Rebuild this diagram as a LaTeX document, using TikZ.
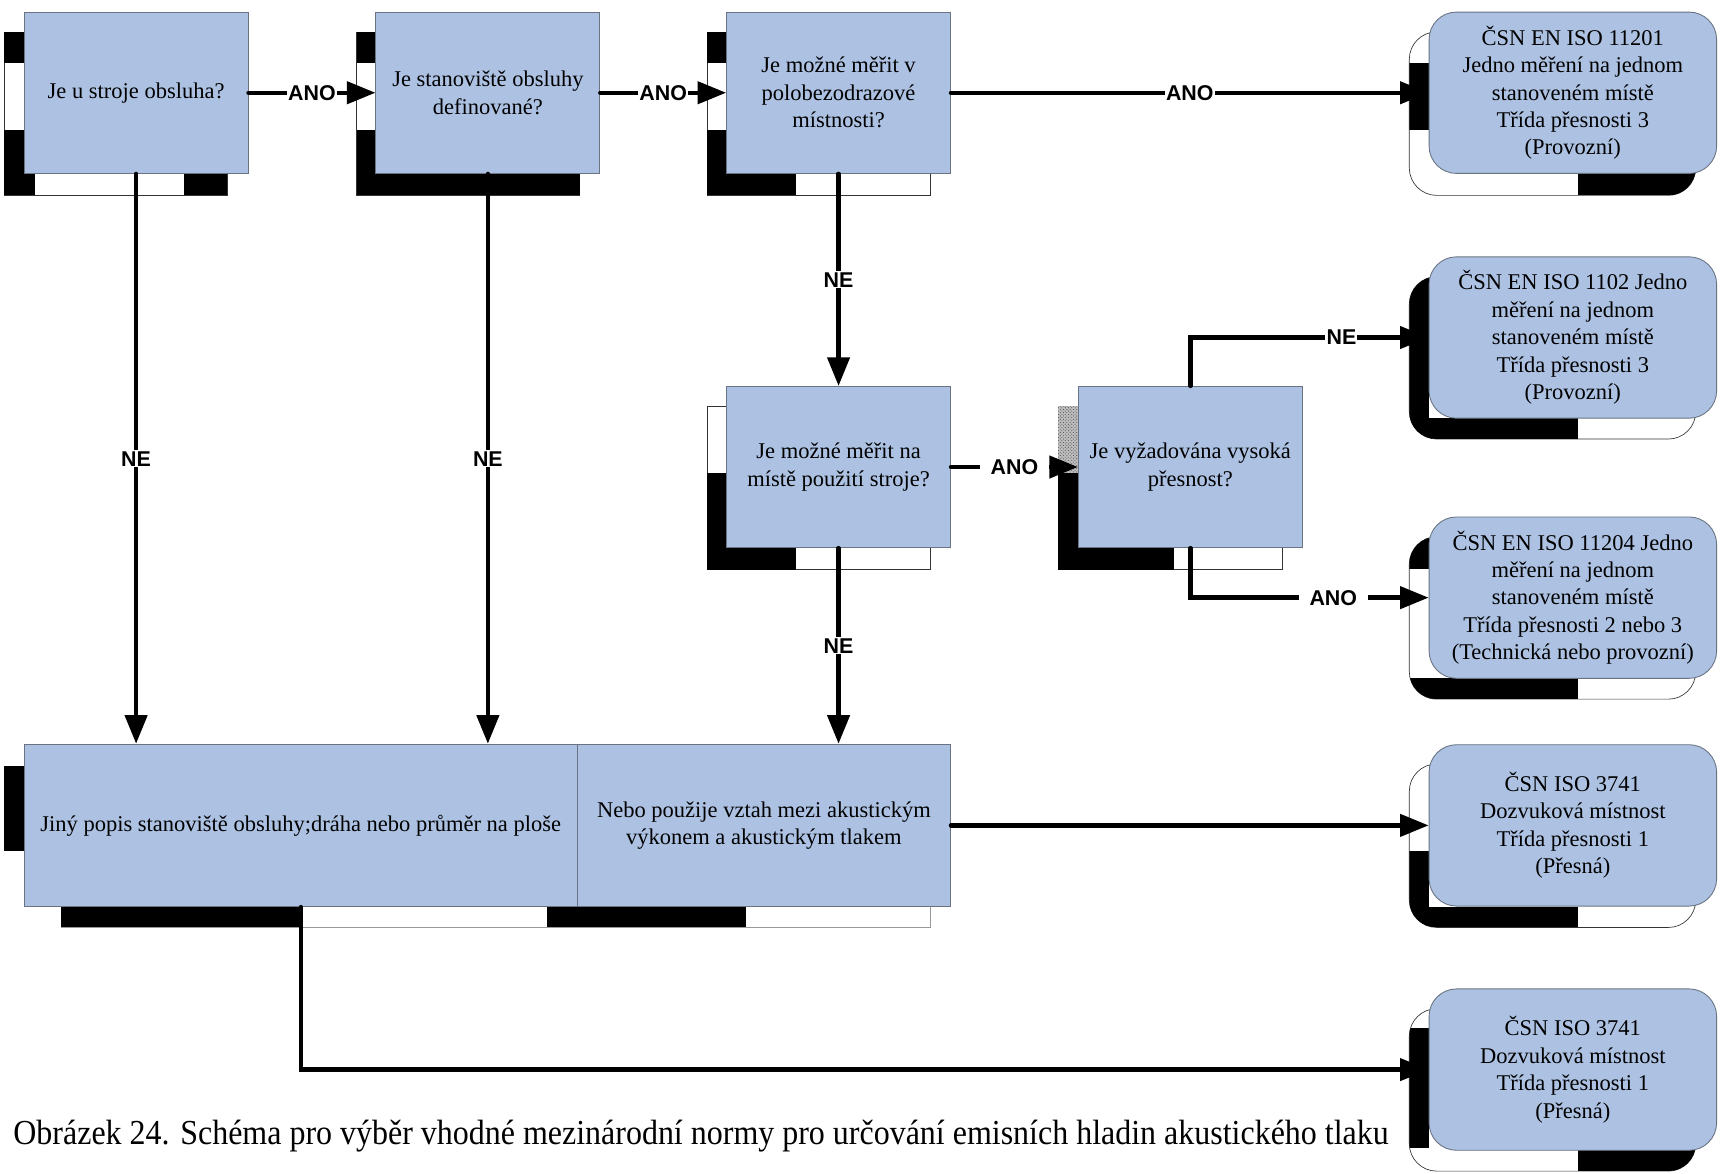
\documentclass[tikz,border=0pt]{standalone}
\usepackage{fontspec}
\setmainfont{Liberation Serif}
\setsansfont{Liberation Sans}
\usetikzlibrary{arrows.meta,patterns}

\definecolor{boxblue}{RGB}{173,194,227}
\definecolor{edgegray}{RGB}{105,115,130}

\begin{document}
\begin{tikzpicture}[x=1pt,y=-1pt,
    >={Triangle[length=26pt,width=20pt]},
    box/.style = {
      draw = edgegray,
      line width = 0.8pt,
      fill = boxblue,
      minimum width = 204pt,
      minimum height = 147pt,
      inner sep = 0pt,
      align = center,
      font = \fontsize{20.5}{25}\selectfont
    },
    norm/.style = {
      box,
      rounded corners = 25pt,
      minimum width = 262pt
    },
    shadowframe/.style = {fill = white, draw = black!80, line width = 0.6pt},
    conn/.style = {->, line width = 4pt, line cap = round},
    lbl/.style = {
      fill = white,
      inner sep = 1pt,
      font = \sffamily\bfseries\fontsize{19.5}{20}\selectfont
    }
  ]
  \useasboundingbox (0,0) rectangle (1568,1069);

  % shadows of the question boxes
  \path[shadowframe] (4,29) rectangle (207,178);
  \fill (4,29) rectangle (22,57);
  \fill (4,118) rectangle (32,178);
  \fill (168,158) rectangle (207,178);

  \path[shadowframe] (325,29) rectangle (528,178);
  \fill (325,29) rectangle (343,57);
  \fill (325,118) rectangle (343,178);
  \fill (325,158) rectangle (528,178);

  \path[shadowframe] (644,29) rectangle (848,178);
  \fill (644,29) rectangle (662,57);
  \fill (644,118) rectangle (662,178);
  \fill (644,158) rectangle (725,178);

  \path[shadowframe] (644,370) rectangle (848,519);
  \fill (644,431) rectangle (662,519);
  \fill (644,499) rectangle (725,519);

  \path[shadowframe] (964,370) rectangle (1168,519);
  \fill[gray!50] (964,370) rectangle (982,431);
  \path[pattern=crosshatch dots, pattern color=black!70] (964,370) rectangle (982,431);
  \fill (964,431) rectangle (982,519);
  \fill (964,499) rectangle (1070,519);

  % shadow of the long box
  \fill (4,698) rectangle (22,775);
  \fill (56,826) rectangle (275,845);
  \fill (498,826) rectangle (680,845);
  \draw[black!40, line width=0.8pt] (56,845) -- (848,845) -- (848,826);

  % shadows of the norm boxes
  \path[shadowframe, rounded corners=25pt] (1284,29) rectangle (1545,178);
  \begin{scope}
    \clip[rounded corners=25pt] (1284,29) rectangle (1545,178);
    \fill (1284,57) rectangle (1302,118);
    \fill (1438,158) rectangle (1545,178);
  \end{scope}

  \path[shadowframe, rounded corners=25pt] (1284,252) rectangle (1545,400);
  \begin{scope}
    \clip[rounded corners=25pt] (1284,252) rectangle (1545,400);
    \fill (1284,252) rectangle (1302,400);
    \fill (1284,381) rectangle (1438,400);
  \end{scope}

  \path[shadowframe, rounded corners=25pt] (1284,489) rectangle (1545,637);
  \begin{scope}
    \clip[rounded corners=25pt] (1284,489) rectangle (1545,637);
    \fill (1284,489) rectangle (1302,518);
    \fill (1284,618) rectangle (1438,637);
  \end{scope}

  \path[shadowframe, rounded corners=25pt] (1284,696) rectangle (1545,845);
  \begin{scope}
    \clip[rounded corners=25pt] (1284,696) rectangle (1545,845);
    \fill (1284,775) rectangle (1302,845);
    \fill (1284,826) rectangle (1438,845);
  \end{scope}

  \path[shadowframe, rounded corners=25pt] (1284,919) rectangle (1545,1067);
  \begin{scope}
    \clip[rounded corners=25pt] (1284,919) rectangle (1545,1067);
    \fill (1284,937) rectangle (1302,1046);
    \fill (1438,1048) rectangle (1545,1067);
  \end{scope}

  % questions
  \node[box] (A) at (124,84.5) {Je u stroje obsluha?};
  \node[box] (B) at (444.5,84.5) {Je stanoviště obsluhy\\definované?};
  \node[box] (C) at (764,84.5) {Je možné měřit v\\polobezodrazové\\místnosti?};
  \node[box] (D) at (764,425.5) {Je možné měřit na\\místě použití stroje?};
  \node[box] (E) at (1084.5,425.5) {Je vyžadována vysoká\\přesnost?};

  \node[box, minimum width=504pt, minimum height=148pt] (L) at (274,752)
    {Jiný popis stanoviště obsluhy;dráha nebo průměr na ploše};
  \node[box, minimum width=340pt, minimum height=148pt] (M) at (696,752)
    {Nebo použije vztah mezi akustickým\\výkonem a akustickým tlakem};

  % norms
  \node[norm] (R1) at (1433,84.5)
    {ČSN EN ISO 11201\\Jedno měření na jednom\\stanoveném místě\\Třída přesnosti 3\\(Provozní)};
  \node[norm] (R2) at (1433,307.5)
    {ČSN EN ISO 1102 Jedno\\měření na jednom\\stanoveném místě\\Třída přesnosti 3\\(Provozní)};
  \node[norm] (R3) at (1433,544.5)
    {ČSN EN ISO 11204 Jedno\\měření na jednom\\stanoveném místě\\Třída přesnosti 2 nebo 3\\(Technická nebo provozní)};
  \node[norm] (R4) at (1433,752)
    {ČSN ISO 3741\\Dozvuková místnost\\Třída přesnosti 1\\(Přesná)};
  \node[norm] (R5) at (1433,974.5)
    {ČSN ISO 3741\\Dozvuková místnost\\Třída přesnosti 1\\(Přesná)};

  % connectors
  \draw[conn] (A) -- node[lbl] {ANO} (B);
  \draw[conn] (B) -- node[lbl] {ANO} (C);
  \draw[conn] (C) -- node[lbl] {ANO} (R1);
  \draw[conn] (C) -- node[lbl] {NE} (D);
  \draw[conn] (A.south) -- node[lbl] {NE} (A.south |- L.north);
  \draw[conn] (B.south) -- node[lbl] {NE} (B.south |- L.north);
  \draw[conn] (D.south) -- node[lbl] {NE} (D.south |- M.north);
  \draw[conn] (D) -- node[lbl, inner xsep=10pt] {ANO} (E);
  \draw[conn] (E.north) |- node[lbl, pos=0.817] {NE} (R2.west);
  \draw[conn] (E.south) |- node[lbl, pos=0.8, inner xsep=10pt] {ANO} (R3.west);
  \draw[conn] (M) -- (R4);
  \draw[conn] (L.south) |- (R5.west);

  \node[anchor=base west, inner sep=0pt, font=\fontsize{32}{36}\selectfont] (cap) at (12,1043)
    {\resizebox{1253pt}{\height}{Obrázek 24. Schéma pro výběr vhodné mezinárodní normy pro určování emisních hladin akustického tlaku}};
\end{tikzpicture}
\end{document}
